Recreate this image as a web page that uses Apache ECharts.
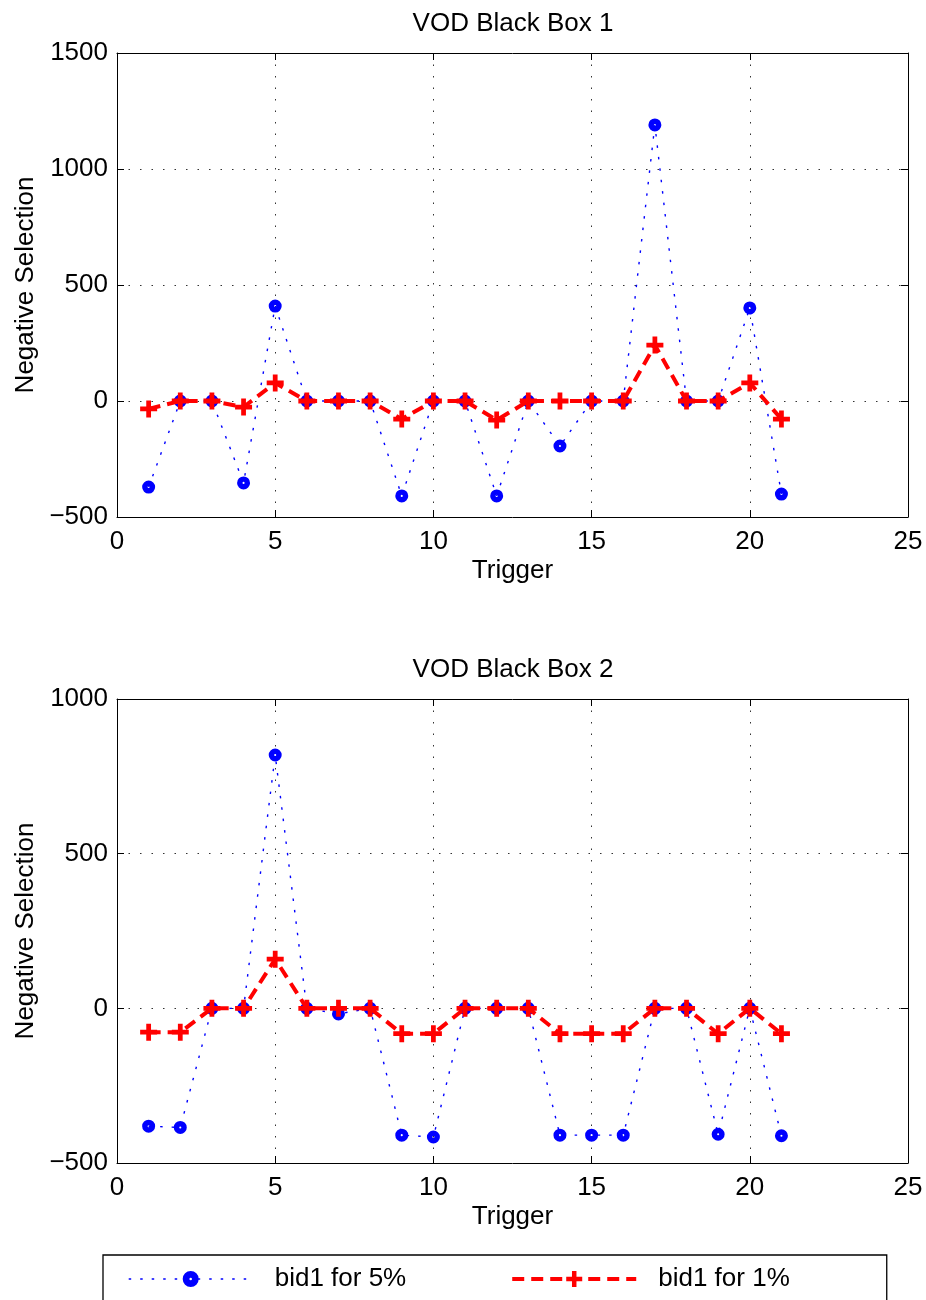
<!DOCTYPE html>
<html>
<head>
<meta charset="utf-8">
<script src="https://cdn.jsdelivr.net/npm/echarts@6/dist/echarts.min.js"></script>
<style>
html,body{margin:0;padding:0;background:#fff;}
#chart{width:926px;height:1300px;}
</style>
</head>
<body>
<div id="chart"></div>
<script>
const trigger = [1,2,3,4,5,6,7,8,9,10,11,12,13,14,15,16,17,18,19,20,21];
const box1Bid5 = [-371, 0, 0, -353, 409, 0, 0, 0, -409, 0, 0, -409, 0, -194, 0, 0, 1190, 0, 0, 401, -401];
const box1Bid1 = [-34, 0, 0, -26, 78, 0, 0, 0, -78, 0, 0, -82, 0, 0, 0, 0, 241, 0, 0, 78, -78];
const box2Bid5 = [-381, -385, 0, 0, 819, 0, -18, 0, -410, -416, 0, 0, 0, -410, -410, -410, 0, 0, -407, 0, -412];
const box2Bid1 = [-77, -77, 0, 0, 159, 0, 0, 0, -82, -82, 0, 0, 0, -82, -82, -82, 0, 0, -82, 0, -82];
const titles = ['VOD Black Box 1', 'VOD Black Box 2'];
const seriesNames = ['bid1 for 5%', 'bid1 for 1%'];
const xTicks = [0, 25, 5];
const y1Ticks = [-500, 1500, 500];
const y2Ticks = [-500, 1000, 500];

const FONT = 'Liberation Sans, Arial, Helvetica, sans-serif';
const FS = 26;
const plusPath = 'path://M3.6,0H6.4V3.6H10V6.4H6.4V10H3.6V6.4H0V3.6H3.6Z';
const ringPath = 'path://M5,0A5,5 0 1 1 5,10A5,5 0 1 1 5,0ZM5,4.2A0.8,0.8 0 1 0 5,5.8A0.8,0.8 0 1 0 5,4.2Z';
const fmt = v => String(v).replace('-', '\u2212');

const grids = [
  {left: 117, top: 53, width: 791, height: 464},
  {left: 117, top: 699, width: 791, height: 464}
];

function mkX(gi, pos) {
  const main = pos === 'bottom';
  return {
    type: 'value', gridIndex: gi, position: pos,
    min: xTicks[0], max: xTicks[1], interval: xTicks[2],
    name: main ? 'Trigger' : '', nameLocation: 'middle', nameGap: 41,
    nameTextStyle: {fontFamily: FONT, fontSize: FS, color: '#000'},
    axisLine: {show: true, onZero: false, lineStyle: {color: '#000', width: 1}},
    axisTick: {show: true, inside: true, length: 7, lineStyle: {color: '#000'}},
    axisLabel: {show: main, fontFamily: FONT, fontSize: FS, color: '#000', margin: 12, formatter: fmt},
    splitLine: {show: main, lineStyle: {color: '#333', width: 1, type: [1.5, 10]}}
  };
}
function mkY(gi, pos, t) {
  const main = pos === 'left';
  return {
    type: 'value', gridIndex: gi, position: pos,
    min: t[0], max: t[1], interval: t[2],
    name: main ? 'Negative Selection' : '', nameLocation: 'middle', nameGap: 78,
    nameTextStyle: {fontFamily: FONT, fontSize: FS, color: '#000'},
    axisLine: {show: true, onZero: false, lineStyle: {color: '#000', width: 1}},
    axisTick: {show: true, inside: true, length: 7, lineStyle: {color: '#000'}},
    axisLabel: {show: main, fontFamily: FONT, fontSize: FS, color: '#000', margin: 9, formatter: fmt},
    splitLine: {show: main, lineStyle: {color: '#333', width: 1, type: [1.5, 10]}}
  };
}

const blueLine = {color: '#0000ff', width: 1.4, type: [2.5, 9]};
const redLine = {color: '#ff0000', width: 4, type: [12, 7]};

function blueSeries(xi, yi, vals) {
  return {
    name: seriesNames[0], type: 'line', xAxisIndex: xi, yAxisIndex: yi,
    data: trigger.map((t, i) => [t, vals[i]]),
    symbol: ringPath, symbolSize: 13, z: 2,
    lineStyle: blueLine,
    itemStyle: {color: '#0000ff', borderWidth: 0},
    emphasis: {disabled: true}, animation: false
  };
}
function redSeries(xi, yi, vals) {
  return {
    name: seriesNames[1], type: 'line', xAxisIndex: xi, yAxisIndex: yi,
    data: trigger.map((t, i) => [t, vals[i]]),
    symbol: plusPath, symbolSize: 17, z: 3,
    lineStyle: redLine,
    itemStyle: {color: '#ff0000', borderWidth: 0},
    emphasis: {disabled: true}, animation: false
  };
}

const chart = echarts.init(document.getElementById('chart'), null, {renderer: 'canvas'});
chart.setOption({
  backgroundColor: '#fff',
  animation: false,
  title: [
    {text: titles[0], left: 508, textAlign: 'center', top: 6, textStyle: {fontFamily: FONT, fontSize: FS, fontWeight: 'normal', color: '#000'}},
    {text: titles[1], left: 508, textAlign: 'center', top: 652, textStyle: {fontFamily: FONT, fontSize: FS, fontWeight: 'normal', color: '#000'}}
  ],
  grid: grids,
  xAxis: [mkX(0, 'bottom'), mkX(0, 'top'), mkX(1, 'bottom'), mkX(1, 'top')],
  yAxis: [mkY(0, 'left', y1Ticks), mkY(0, 'right', y1Ticks), mkY(1, 'left', y2Ticks), mkY(1, 'right', y2Ticks)],
  legend: {
    data: [
      {name: seriesNames[0], lineStyle: {color: '#0000ff', width: 1.4, type: [2.5, 9]}},
      {name: seriesNames[1], lineStyle: {color: '#ff0000', width: 4, type: [12, 7]}}
    ],
    left: 103, top: 1255,
    orient: 'horizontal',
    borderColor: '#000', borderWidth: 1.3,
    padding: [11, 97, 40, 25],
    itemWidth: 124, itemHeight: 20, itemGap: 104,
    textStyle: {fontFamily: FONT, fontSize: FS, color: '#000', padding: [0, 0, 0, 17]},
    selectedMode: false
  },
  series: [
    blueSeries(0, 0, box1Bid5),
    redSeries(0, 0, box1Bid1),
    blueSeries(2, 2, box2Bid5),
    redSeries(2, 2, box2Bid1)
  ]
});
</script>
</body>
</html>
